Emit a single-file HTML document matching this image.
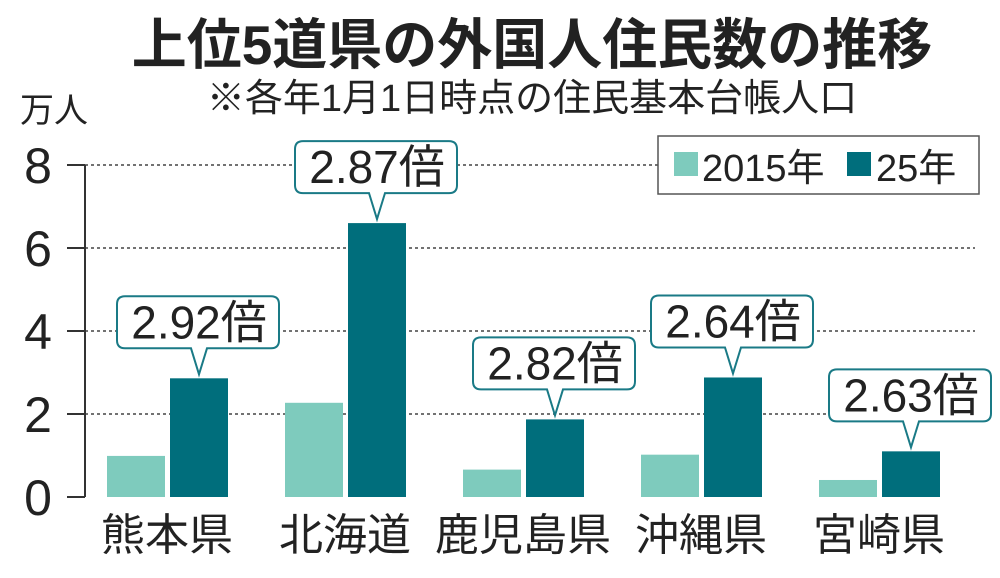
<!DOCTYPE html>
<html><head><meta charset="utf-8"><style>
body{margin:0;background:#fff;width:1000px;height:573px;overflow:hidden}
svg text{font-family:"Liberation Sans","Noto Sans CJK JP",sans-serif;fill:#222}
</style></head><body>
<svg id="c" width="1000" height="573" xmlns="http://www.w3.org/2000/svg">
<text x="532" y="64" text-anchor="middle" font-size="55" font-weight="bold">上位5道県の外国人住民数の推移</text>
<text x="532" y="111" text-anchor="middle" font-size="38">※各年1月1日時点の住民基本台帳人口</text>
<text x="20" y="122" font-size="34">万人</text>
<g id="grid"></g><g id="bars"></g><g id="callouts"></g>
<g>
<rect x="658" y="136" width="321" height="58" fill="#fff" stroke="#555" stroke-width="1.5"/>
<rect x="674" y="152" width="24" height="24" fill="#7ecbbd"/>
<text x="702" y="181" font-size="38">2015年</text>
<rect x="847" y="152" width="24" height="24" fill="#006e7c"/>
<text x="876" y="181" font-size="38">25年</text>
</g>
</svg>
<script>
const categories=["熊本県","北海道","鹿児島県","沖縄県","宮崎県"];
const values2015=[0.99,2.27,0.66,1.02,0.41];
const values2025=[2.86,6.6,1.87,2.88,1.1];
const ratios=["2.92倍","2.87倍","2.82倍","2.64倍","2.63倍"];
const yTicks=[0,2,4,6,8];
const NS="http://www.w3.org/2000/svg";
const y0=497,ppu=41.5;
const y=v=>y0-v*ppu;
const groupX=i=>107+i*178;
function mk(t,a,p){const e=document.createElementNS(NS,t);for(const k in a)e.setAttribute(k,a[k]);p.appendChild(e);return e;}
const grid=document.getElementById('grid');
yTicks.forEach(t=>{
 if(t>0){const l=mk('line',{x1:85,x2:t==8?658:975,y1:y(t),y2:y(t),stroke:'#444','stroke-width':1.5,'stroke-dasharray':'3,3'},grid);
 
 }
 const tk=mk('line',{x1:67,x2:85,y1:y(t),y2:y(t),stroke:'#333','stroke-width':2},grid);
 
 
 const tx=mk('text',{x:38,y:y(t)+18,'text-anchor':'middle','font-size':50},grid);tx.textContent=t;
 
 
});
const ax=mk('line',{x1:85,x2:85,y1:y(8),y2:y0,stroke:'#333','stroke-width':2},grid);


const bars=document.getElementById('bars'),co=document.getElementById('callouts');
categories.forEach((c,i)=>{
 const gx=groupX(i);
 const b1=mk('rect',{x:gx,y:y(values2015[i]),width:58,height:values2015[i]*ppu,fill:'#7ecbbd'},bars);
 
 
 const b2=mk('rect',{x:gx+63,y:y(values2025[i]),width:58,height:values2025[i]*ppu,fill:'#006e7c'},bars);
 
 
 const lb=mk('text',{x:gx+60,y:550,'text-anchor':'middle','font-size':44},bars);lb.textContent=c;
 
 
 const px=gx+92,tip=y(values2025[i])-4,bb=tip-26,bt=bb-52,bl=px-82,br=px+80;
 const d=`M${bl+8},${bt} H${br-8} Q${br},${bt} ${br},${bt+8} V${bb-8} Q${br},${bb} ${br-8},${bb} H${px+8} L${px},${tip} L${px-8},${bb} H${bl+8} Q${bl},${bb} ${bl},${bb-8} V${bt+8} Q${bl},${bt} ${bl+8},${bt} Z`;
 const p=mk('path',{d:d,fill:'#fff',stroke:'#1a7a86','stroke-width':2},co);
 
 
 const t=mk('text',{x:px,y:bb-10,'text-anchor':'middle','font-size':46},co);t.textContent=ratios[i];
 
 
});
</script>
</body></html>
